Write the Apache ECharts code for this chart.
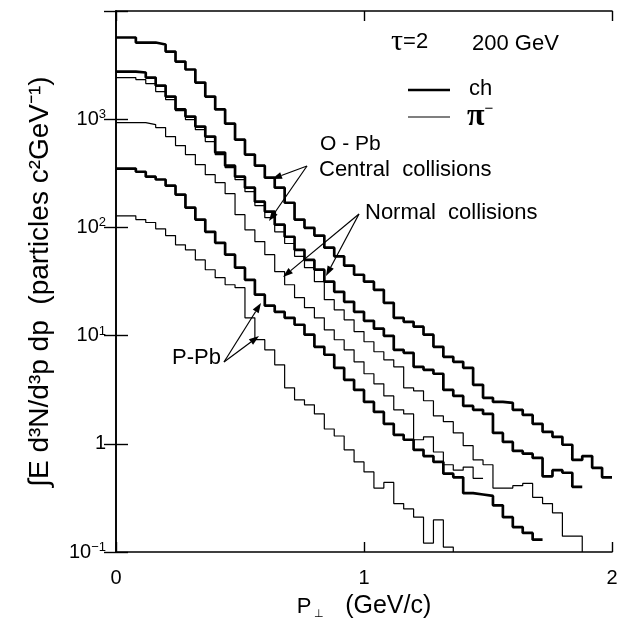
<!DOCTYPE html>
<html>
<head>
<meta charset="utf-8">
<script src="https://cdn.jsdelivr.net/npm/echarts@6/dist/echarts.min.js"></script>
<style>
  html, body { margin: 0; background: #fff; }
  #chart { width: 621px; height: 622px; }
</style>
</head>
<body>
<div id="chart"></div>
<script>
// histogram bins of 0.04 GeV/c starting at P = 0
const binWidth = 0.04;
const xTicks = [0, 1, 2];
const yTickLabels = { "-1": "{b|10}{s|−1}", "0": "{b|1}", "1": "{b|10}{s|1}", "2": "{b|10}{s|2}", "3": "{b|10}{s|3}" };

// O-Pb central collisions, charged (thick) and pi- (thin)
const oPbCentralCh = [5690, 5690, 5110, 5110, 4900, 4220, 3410, 2880, 2180, 1620, 1230, 910, 647, 471, 372, 288, 233, 169, 118, 99, 84, 65, 54, 44.3, 36.5, 31.5, 26.5, 20.1, 14.6, 13.4, 12.1, 10.2, 7.87, 6.36, 5.72, 5.04, 3.51, 2.66, 2.44, 2.39, 2.06, 1.85, 1.53, 1.29, 1.16, 0.98, 0.71, 0.77, 0.60, 0.49];
const oPbCentralPi = [2425, 2425, 2323, 2135, 1800, 1518, 1200, 991, 801, 621, 471, 357, 276, 214, 159, 123, 91, 71, 54, 42.4, 31.5, 21.5, 17.3, 14.0, 10.9, 8.77, 7.09, 5.97, 5.15, 3.29, 3.09, 2.50, 1.81, 1.60, 1.26, 0.96, 0.71, 0.64, 0.39, 0.39, 0.41, 0.43, 0.32, 0.28, 0.23, 0.14, 0.14];
// O-Pb normal collisions
const oPbNormalCh = [2755, 2755, 2700, 2425, 2045, 1620, 1230, 1058, 855, 691, 491, 372, 294, 233, 173, 140, 106, 82, 62, 50, 40.7, 31.5, 25.4, 20.5, 16.6, 13.7, 11.6, 9.96, 7.39, 6.93, 5.15, 4.83, 4.44, 3.15, 2.77, 2.24, 2.06, 1.89, 1.26, 1.04, 0.86, 0.81, 0.74, 0.50, 0.57, 0.54, 0.40];
const oPbNormalPi = [929, 929, 929, 891, 836, 691, 570, 471, 380, 307, 259, 205, 131, 95, 74, 56, 39, 29.5, 22.4, 18.1, 14.6, 11.3, 9.15, 7.39, 5.72, 4.44, 3.58, 2.77, 2.06, 1.89, 1.09, 1.16, 0.84, 0.64, 0.57, 0.61, 0.48];
// P-Pb
const pPbCh = [350, 350, 327, 294, 277, 243, 201, 152, 118, 91, 72, 56, 42.4, 32.8, 23.9, 18.9, 16.6, 14.6, 12.6, 10.2, 7.87, 6.65, 5.04, 3.90, 3.15, 2.44, 1.97, 1.53, 1.21, 1.09, 0.88, 0.77, 0.68, 0.53, 0.49, 0.35, 0.34, 0.33, 0.27, 0.21, 0.17, 0.15, 0.13];
const pPbPi = [128, 128, 118, 111, 97, 84, 69, 62, 50, 40.6, 34.3, 29.5, 27.7, 14.6, 9.16, 7.39, 5.37, 3.29, 2.55, 2.29, 1.89, 1.37, 1.18, 0.88, 0.68, 0.55, 0.39, 0.44, 0.28, 0.25, 0.21, 0.121, 0.198, 0.111];

const yMin = 0.1, yMax = 10000;
const font = "Liberation Sans, Arial, Helvetica, sans-serif";
const serif = "Liberation Serif, Times New Roman, serif";

// turn bin contents into step points (left edge of each bin + closing edge)
function steps(vals, toAxis) {
  const pts = vals.map((v, i) => [+(i * binWidth).toFixed(2), v]);
  const xEnd = +(vals.length * binWidth).toFixed(2);
  pts.push([xEnd, vals[vals.length - 1]]);
  if (toAxis) pts.push([xEnd, yMin]);
  return pts;
}

function hist(name, vals, thick, toAxis) {
  return {
    name: name,
    type: "line",
    step: "end",
    data: steps(vals, toAxis),
    showSymbol: false,
    symbol: "none",
    clip: true,
    lineStyle: { color: "#000", width: thick ? 2.7 : 1.2 },
    z: thick ? 3 : 2,
  };
}

// arrow drawn as a line plus a filled head
function arrow(x1, y1, x2, y2) {
  const a = Math.atan2(y2 - y1, x2 - x1);
  const L = 10, W = 3.5;
  const bx = x2 - L * Math.cos(a), by = y2 - L * Math.sin(a);
  return [
    { type: "line", shape: { x1: x1, y1: y1, x2: bx, y2: by }, style: { stroke: "#000", lineWidth: 1.2 } },
    {
      type: "polygon",
      shape: { points: [[x2, y2], [bx + W * Math.sin(a), by - W * Math.cos(a)], [bx - W * Math.sin(a), by + W * Math.cos(a)]] },
      style: { fill: "#000" },
    },
  ];
}

const axisLine = { show: true, lineStyle: { color: "#000", width: 1.6 } };
const tick = (len) => ({ show: true, inside: true, length: len, lineStyle: { color: "#000", width: 1.4 } });

const chart = echarts.init(document.getElementById("chart"));
const option = {
  animation: false,
  backgroundColor: "#fff",
  grid: { left: 116, top: 11, width: 496, height: 541, outerBoundsMode: "none", containLabel: false },
  xAxis: [
    {
      type: "value", min: 0, max: 2, interval: 1, position: "bottom",
      axisLine: axisLine, axisTick: tick(10), splitLine: { show: false },
      axisLabel: { color: "#000", fontSize: 20, fontFamily: font, margin: 16,
        formatter: (v) => (xTicks.includes(v) ? String(v) : "") },
      name: "{p|P}{s|⊥}{u|   (GeV/c)}",
      nameLocation: "middle",
      nameGap: 42,
      nameTextStyle: {
        color: "#000", fontFamily: font,
        rich: {
          p: { fontSize: 22, fontFamily: font, color: "#000" },
          s: { fontSize: 11, fontFamily: font, color: "#000", verticalAlign: "bottom", padding: [10, 0, 0, 3] },
          u: { fontSize: 25, fontFamily: font, color: "#000" },
        },
      },
    },
    {
      type: "value", min: 0, max: 2, interval: 1, position: "top",
      axisLine: axisLine, axisTick: tick(10), axisLabel: { show: false }, splitLine: { show: false },
    },
  ],
  yAxis: [
    {
      type: "log", logBase: 10, min: yMin, max: yMax, position: "left",
      axisLine: axisLine, axisTick: tick(12), splitLine: { show: false }, minorTick: { show: false },
      axisLabel: {
        color: "#000", fontFamily: font, margin: 10,
        formatter: (v) => yTickLabels[String(Math.round(Math.log10(v)))] || "",
        rich: {
          b: { fontSize: 20, fontFamily: font, color: "#000", lineHeight: 22 },
          s: { fontSize: 13, fontFamily: font, color: "#000", verticalAlign: "top", lineHeight: 13 },
        },
      },
      name: "∫E d³N/d³p dp  (particles c²GeV⁻¹)",
      nameLocation: "middle",
      nameRotate: 90,
      nameGap: 62,
      nameTextStyle: { color: "#000", fontSize: 28, fontFamily: font },
    },
    {
      type: "log", logBase: 10, min: yMin, max: yMax, position: "right",
      axisLine: axisLine, axisTick: tick(12), axisLabel: { show: false }, splitLine: { show: false },
    },
  ],
  series: [
    hist("O-Pb central ch", oPbCentralCh, true, false),
    hist("O-Pb central π-", oPbCentralPi, false, true),
    hist("O-Pb normal ch", oPbNormalCh, true, false),
    hist("O-Pb normal π-", oPbNormalPi, false, false),
    hist("P-Pb ch", pPbCh, true, false),
    hist("P-Pb π-", pPbPi, false, true),
  ],
  graphic: [
    {
      type: "text", left: 391, top: 27,
      style: {
        text: "{t|τ}{e|=2}",
        rich: {
          t: { fontSize: 30, fontFamily: serif, fill: "#000" },
          e: { fontSize: 22, fontFamily: font, fill: "#000" },
        },
      },
    },
    { type: "text", left: 472, top: 33, style: { text: "200 GeV", font: "22px " + font, fill: "#000" } },
    { type: "line", shape: { x1: 408, y1: 90, x2: 450, y2: 90 }, style: { stroke: "#000", lineWidth: 2.7 } },
    { type: "line", shape: { x1: 408, y1: 117, x2: 450, y2: 117 }, style: { stroke: "#000", lineWidth: 1.2 } },
    { type: "text", left: 469, top: 78, style: { text: "ch", font: "22px " + font, fill: "#000" } },
    {
      type: "text", left: 467, top: 101,
      style: {
        text: "{p|π}{m|−}",
        rich: {
          p: { fontSize: 32, fontWeight: "bold", fontFamily: serif, fill: "#000" },
          m: { fontSize: 15, fontFamily: font, fill: "#000", verticalAlign: "top", lineHeight: 15 },
        },
      },
    },
    { type: "text", left: 320, top: 134, style: { text: "O - Pb", font: "21px " + font, fill: "#000" } },
    { type: "text", left: 319, top: 159, style: { text: "Central  collisions", font: "22px " + font, fill: "#000" } },
    { type: "text", left: 365, top: 202, style: { text: "Normal  collisions", font: "22px " + font, fill: "#000" } },
    { type: "text", left: 172, top: 347, style: { text: "P-Pb", font: "22px " + font, fill: "#000" } },
  ]
    .concat(arrow(307, 166, 272, 179))
    .concat(arrow(307, 166, 269, 221))
    .concat(arrow(359, 214, 283, 277))
    .concat(arrow(359, 214, 326, 276))
    .concat(arrow(224, 362, 261, 303))
    .concat(arrow(224, 362, 259, 336)),
};
chart.setOption(option);
</script>
</body>
</html>
